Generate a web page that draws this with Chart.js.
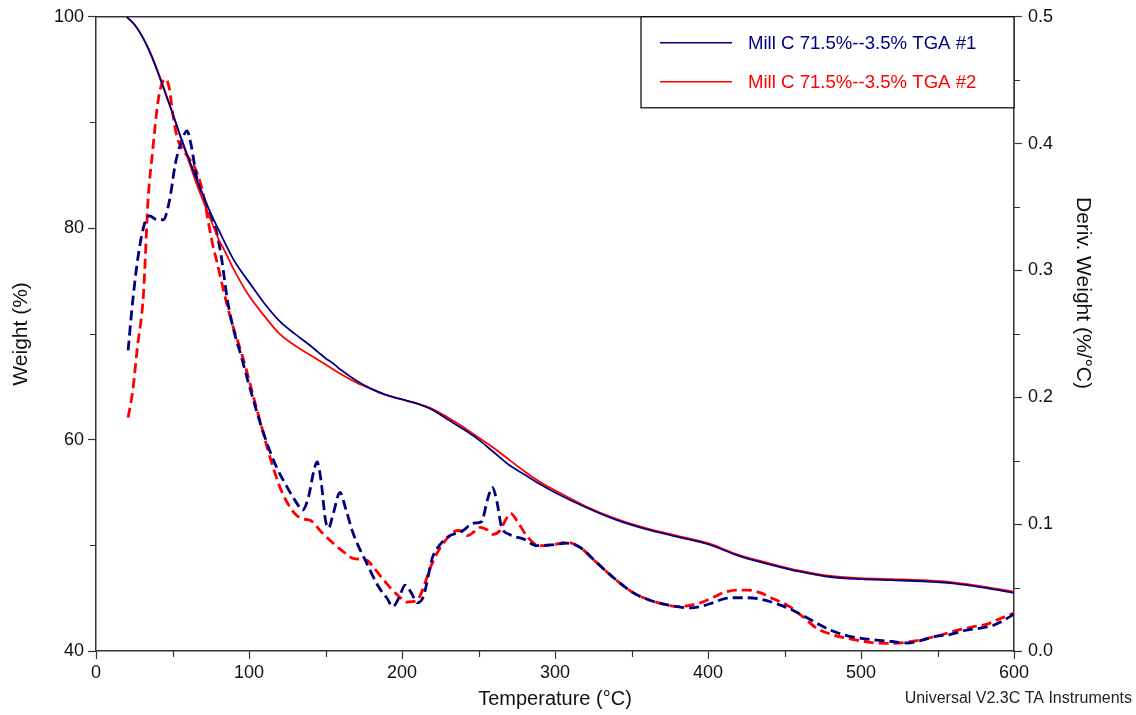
<!DOCTYPE html>
<html>
<head>
<meta charset="utf-8">
<title>TGA Mill C</title>
<script src="https://cdn.jsdelivr.net/npm/chart.js@4.4.1/dist/chart.umd.min.js"></script>
<style>
  html, body { margin: 0; padding: 0; background: #fff; }
  #wrap { position: relative; width: 1136px; height: 715px; }
</style>
</head>
<body>
<div id="wrap">
  <canvas id="tga" width="1136" height="715"></canvas>
</div>
<script>
// weight curves (solid, left axis)
const tempW1 = [20, 25, 30, 35, 40, 45, 50, 55, 60, 65, 70, 75, 80, 85, 90, 95, 100, 110, 120, 130, 140, 145, 150, 155, 160, 170, 180, 190, 200, 210, 220, 230, 240, 250, 260, 270, 280, 290, 300, 320, 340, 360, 380, 400, 420, 440, 460, 480, 500, 520, 540, 560, 580, 600];
const weight1 = [100, 99.3, 98.2, 96.7, 94.9, 92.9, 90.9, 88.8, 86.8, 84.9, 83.1, 81.4, 79.9, 78.4, 77.0, 75.9, 74.9, 72.9, 71.2, 70.0, 68.9, 68.3, 67.7, 67.2, 66.6, 65.6, 64.8, 64.2, 63.8, 63.4, 62.8, 61.9, 61.0, 60.0, 58.8, 57.6, 56.7, 55.8, 55.0, 53.6, 52.4, 51.5, 50.8, 50.1, 49.0, 48.2, 47.5, 47.0, 46.8, 46.7, 46.6, 46.4, 46.0, 45.5];

const tempW2 = [20, 25, 30, 35, 40, 45, 50, 55, 60, 65, 70, 75, 80, 85, 90, 95, 100, 110, 120, 130, 140, 150, 160, 170, 180, 190, 200, 210, 220, 230, 240, 250, 260, 270, 280, 290, 300, 320, 340, 360, 380, 400, 420, 440, 460, 480, 500, 520, 540, 560, 580, 600];
const weight2 = [100, 99.3, 98.2, 96.8, 95.0, 93.0, 90.9, 88.7, 86.6, 84.5, 82.6, 80.8, 79.0, 77.6, 76.1, 74.8, 73.6, 71.7, 70.0, 68.9, 68.0, 67.1, 66.2, 65.4, 64.8, 64.2, 63.8, 63.4, 62.9, 62.1, 61.2, 60.2, 59.2, 58.1, 57.0, 56.0, 55.2, 53.7, 52.5, 51.6, 50.9, 50.2, 49.1, 48.3, 47.6, 47.1, 46.9, 46.8, 46.7, 46.5, 46.1, 45.6];

// derivative curves (dashed, right axis)
const tempD1 = [21, 24, 28, 32, 35, 40, 44, 48, 52, 56, 59.5, 62, 66, 71, 75, 79, 82, 86, 90, 95, 100, 106, 112, 118, 125, 131, 135, 139, 142, 144.5, 147, 150, 152, 155, 159.5, 163, 168, 177, 185, 190, 194, 198, 202, 206, 210, 214, 220, 225, 230, 240, 245, 249, 252, 256, 259, 262, 265, 270, 280, 288, 300, 308, 316, 327, 338, 351, 362, 371, 380, 388, 395, 403, 410, 417, 425, 434, 443, 452, 462, 471, 481, 491, 500, 510, 520, 530, 540, 547, 558, 569, 578, 586, 593, 600];
const deriv1 = [0.237, 0.276, 0.315, 0.338, 0.343, 0.340, 0.340, 0.355, 0.385, 0.402, 0.410, 0.400, 0.372, 0.355, 0.343, 0.329, 0.310, 0.276, 0.253, 0.232, 0.210, 0.185, 0.163, 0.145, 0.129, 0.117, 0.111, 0.122, 0.140, 0.149, 0.135, 0.103, 0.097, 0.108, 0.125, 0.113, 0.093, 0.069, 0.050, 0.042, 0.035, 0.042, 0.052, 0.046, 0.038, 0.043, 0.074, 0.084, 0.090, 0.095, 0.100, 0.101, 0.102, 0.120, 0.129, 0.118, 0.098, 0.092, 0.088, 0.083, 0.084, 0.085, 0.082, 0.070, 0.058, 0.046, 0.040, 0.037, 0.035, 0.034, 0.035, 0.038, 0.041, 0.042, 0.042, 0.041, 0.038, 0.034, 0.028, 0.022, 0.016, 0.012, 0.010, 0.0086, 0.0075, 0.0063, 0.0085, 0.011, 0.013, 0.0165, 0.018, 0.020, 0.024, 0.029];

const tempD2 = [21, 24, 27, 31, 34, 37, 40.5, 43, 45.8, 48, 50, 53, 57, 61, 65, 68, 71, 73, 76, 79, 84, 89, 94, 98, 103, 108, 112, 117, 122, 127, 131, 136, 140, 148, 155, 162, 168, 177, 182, 188, 193, 199, 203, 207, 210, 214, 218, 222, 227, 232, 236, 240, 243, 247, 251, 255, 259.5, 264, 268, 271, 275, 282, 290, 300, 308, 316, 327, 338, 351, 362, 371, 380, 388, 395, 403, 410, 419, 426, 434, 443, 452, 462, 471, 481, 491, 500, 510, 520, 530, 540, 552, 562, 573, 582, 590, 600];
const deriv2 = [0.184, 0.205, 0.239, 0.281, 0.355, 0.394, 0.433, 0.447, 0.451, 0.443, 0.425, 0.405, 0.395, 0.388, 0.380, 0.370, 0.355, 0.341, 0.322, 0.307, 0.281, 0.258, 0.239, 0.223, 0.200, 0.178, 0.160, 0.140, 0.124, 0.113, 0.107, 0.104, 0.103, 0.093, 0.085, 0.078, 0.073, 0.0715, 0.065, 0.056, 0.049, 0.042, 0.0385, 0.039, 0.040, 0.050, 0.064, 0.075, 0.085, 0.092, 0.095, 0.094, 0.091, 0.094, 0.0975, 0.096, 0.092, 0.095, 0.104, 0.1085, 0.103, 0.090, 0.083, 0.084, 0.0857, 0.082, 0.070, 0.058, 0.046, 0.040, 0.037, 0.035, 0.036, 0.038, 0.042, 0.046, 0.048, 0.048, 0.046, 0.041, 0.036, 0.027, 0.018, 0.013, 0.010, 0.008, 0.0063, 0.006, 0.007, 0.009, 0.0126, 0.016, 0.019, 0.021, 0.025, 0.030];

const seriesNames = ["Mill C 71.5%--3.5% TGA #1", "Mill C 71.5%--3.5% TGA #2"];
const rightTitle = "Deriv. Weight (%/°C)";
const footNote = "Universal V2.3C TA Instruments";

const BLUE = "#000080";
const RED = "#ff0000";
const AXIS = "#333333";
const FONT = "'Liberation Sans', Arial, sans-serif";

function pts(xs, ys) {
  return xs.map((x, i) => ({ x: x, y: ys[i] }));
}

// only labelled ticks get the long tick mark, the rest are drawn short below
const majorOnly = (ctx) => (ctx.tick && ctx.tick.label !== "" ? AXIS : "rgba(0,0,0,0)");

// top border, short minor ticks, legend box, right axis title and the footnote
const decorPlugin = {
  id: "decor",
  afterDraw(chart) {
    const { ctx, chartArea } = chart;
    ctx.save();
    ctx.strokeStyle = AXIS;
    ctx.lineWidth = 1.5;
    ctx.beginPath();
    ctx.moveTo(chartArea.left, chartArea.top);
    ctx.lineTo(chartArea.right, chartArea.top);
    ctx.stroke();

    // minor ticks
    ctx.lineWidth = 1.2;
    ctx.beginPath();
    ["x", "y", "y1"].forEach((id) => {
      const s = chart.scales[id];
      s.ticks.forEach((t) => {
        if (t.label !== "") return;
        const p = Math.round(s.getPixelForValue(t.value)) + 0.5;
        if (id === "x") {
          ctx.moveTo(p, chartArea.bottom);
          ctx.lineTo(p, chartArea.bottom + 6);
        } else if (id === "y") {
          ctx.moveTo(chartArea.left, p);
          ctx.lineTo(chartArea.left - 6, p);
        } else {
          ctx.moveTo(chartArea.right, p);
          ctx.lineTo(chartArea.right + 6, p);
        }
      });
    });
    ctx.stroke();

    // legend
    const bw = 373, bh = 91;
    const bx = chartArea.right - bw, by = chartArea.top;
    ctx.fillStyle = "#fff";
    ctx.fillRect(bx, by, bw, bh);
    ctx.strokeStyle = "#000";
    ctx.lineWidth = 1.2;
    ctx.strokeRect(bx, by, bw, bh);
    ctx.font = "18.6px " + FONT;
    ctx.textBaseline = "middle";
    ctx.textAlign = "left";
    const colors = [BLUE, RED];
    seriesNames.forEach((name, i) => {
      const ly = by + 26 + i * 39;
      ctx.strokeStyle = colors[i];
      ctx.lineWidth = 1.4;
      ctx.beginPath();
      ctx.moveTo(bx + 19, ly);
      ctx.lineTo(bx + 91, ly);
      ctx.stroke();
      ctx.fillStyle = colors[i];
      ctx.fillText(name, bx + 107, ly + 1);
    });

    // right axis title, reads top to bottom
    ctx.save();
    ctx.translate(1083, 293);
    ctx.rotate(Math.PI / 2);
    ctx.font = "21px " + FONT;
    ctx.fillStyle = "#111";
    ctx.textAlign = "center";
    ctx.textBaseline = "middle";
    ctx.fillText(rightTitle, 0, 0);
    ctx.restore();

    ctx.font = "16px " + FONT;
    ctx.fillStyle = "#222";
    ctx.textAlign = "right";
    ctx.textBaseline = "alphabetic";
    ctx.fillText(footNote, chart.width - 4, 703);
    ctx.restore();
  }
};

const tickFont = { family: FONT, size: 18 };

new Chart(document.getElementById("tga").getContext("2d"), {
  type: "line",
  data: {
    datasets: [
      { label: seriesNames[0], data: pts(tempW1, weight1), yAxisID: "y", borderColor: BLUE, borderWidth: 1.8 },
      { label: seriesNames[1], data: pts(tempW2, weight2), yAxisID: "y", borderColor: RED, borderWidth: 1.8 },
      { label: seriesNames[0] + " deriv", data: pts(tempD1, deriv1), yAxisID: "y1", borderColor: BLUE, borderWidth: 2.8, borderDash: [10, 5] },
      { label: seriesNames[1] + " deriv", data: pts(tempD2, deriv2), yAxisID: "y1", borderColor: RED, borderWidth: 2.8, borderDash: [10, 5] }
    ]
  },
  options: {
    responsive: false,
    animation: false,
    devicePixelRatio: 1,
    layout: { padding: { top: 15, left: 0, right: 0, bottom: 0 } },
    elements: {
      point: { radius: 0 },
      line: { cubicInterpolationMode: "monotone", fill: false }
    },
    plugins: {
      legend: { display: false },
      tooltip: { enabled: false }
    },
    scales: {
      x: {
        type: "linear",
        position: "bottom",
        min: 0,
        max: 600,
        afterFit: (s) => { s.height = 64; },
        ticks: {
          stepSize: 50,
          autoSkip: false,
          maxRotation: 0,
          padding: 3,
          color: "#111",
          font: tickFont,
          callback: (v) => (v % 100 === 0 ? v : "")
        },
        grid: { drawOnChartArea: false, tickLength: 8, tickColor: majorOnly, tickWidth: 1.2 },
        border: { color: AXIS, width: 1.5 },
        title: { display: true, text: "Temperature (°C)", color: "#111", font: { family: FONT, size: 20 }, padding: { top: 0, bottom: 4 } }
      },
      y: {
        position: "left",
        min: 40,
        max: 100,
        afterFit: (s) => { s.width = 96; },
        ticks: {
          stepSize: 10,
          autoSkip: false,
          padding: 4,
          color: "#111",
          font: tickFont,
          callback: (v) => (v % 20 === 0 ? v : "")
        },
        grid: { drawOnChartArea: false, tickLength: 8, tickColor: majorOnly, tickWidth: 1.2 },
        border: { color: AXIS, width: 1.5 },
        title: { display: true, text: "Weight (%)", color: "#111", font: { family: FONT, size: 21 }, padding: { top: 9, bottom: 0 } }
      },
      y1: {
        position: "right",
        min: 0,
        max: 0.5,
        afterFit: (s) => { s.width = 122; },
        ticks: {
          stepSize: 0.05,
          autoSkip: false,
          padding: 6,
          color: "#111",
          font: tickFont,
          callback: (v) => (Math.round(v * 100) % 10 === 0 ? v.toFixed(1) : "")
        },
        grid: { drawOnChartArea: false, tickLength: 8, tickColor: majorOnly, tickWidth: 1.2 },
        border: { color: AXIS, width: 1.5 }
      }
    }
  },
  plugins: [decorPlugin]
});
</script>
</body>
</html>
